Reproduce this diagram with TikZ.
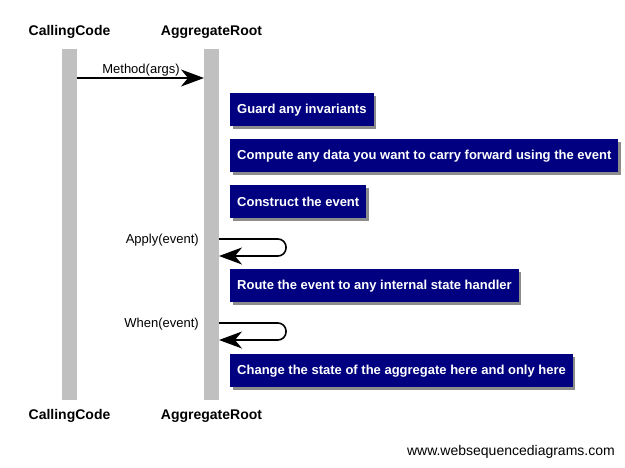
\documentclass[tikz,border=0pt]{standalone}
\usepackage{fontspec}
\setmainfont{Liberation Sans}
\usetikzlibrary{arrows.meta,shadows}
\definecolor{navybox}{RGB}{0,0,128}
\definecolor{lifegray}{RGB}{192,192,192}
\begin{document}
\begin{tikzpicture}[x=1pt,y=-1pt,
  actor/.style={font=\fontsize{14}{16}\selectfont\bfseries, inner sep=0pt},
  lifeline/.style={fill=lifegray},
  msg/.style={line width=1.6pt,-{Stealth[length=23pt,width=17pt,inset=7pt]}},
  lbl/.style={font=\fontsize{13}{15}\selectfont, inner sep=0pt},
  notebox/.style={fill=navybox, text=white, font=\fontsize{13}{15}\selectfont\bfseries,
    anchor=north west, minimum height=33pt, inner xsep=7pt, inner ysep=0pt,
    drop shadow={shadow xshift=2.5pt, shadow yshift=-2.5pt, fill=black, opacity=0.45}},
]
\fill[white] (0,0) rectangle (625,467);
\useasboundingbox (0,0) rectangle (625,467);

% actors
\node[actor] (cctop) at (69.5,32) {CallingCode};
\node[actor] (artop) at (211.5,32) {AggregateRoot};
\node[actor] (ccbot) at (69.5,416) {CallingCode};
\node[actor] (arbot) at (211.5,416) {AggregateRoot};

% lifelines
\fill[lifeline] (62,49) rectangle (77,400);
\fill[lifeline] (204,49) rectangle (219,400);

% message
\coordinate (m1s) at (77,78);
\coordinate (m1e) at (204,78);
\draw[msg] (m1s) -- (m1e);
\node[lbl] (m1l) at (141,70) {Method(args)};

% notes
\node[notebox] (n1) at (230,93) {Guard any invariants};
\node[notebox] (n2) at (230,139) {Compute any data you want to carry forward using the event};
\node[notebox] (n3) at (230,185) {Construct the event};
\node[notebox] (n4) at (230,269) {Route the event to any internal state handler};
\node[notebox] (n5) at (230,354) {Change the state of the aggregate here and only here};

% self messages
\coordinate (s1a) at (219,239);
\coordinate (s1b) at (219,256);
\draw[msg, rounded corners=8pt] (s1a) -- (286,239) -- (286,256) -- (s1b);
\node[lbl, anchor=east] (s1l) at (199,240) {Apply(event)};

\coordinate (s2a) at (219,323);
\coordinate (s2b) at (219,340);
\draw[msg, rounded corners=8pt] (s2a) -- (286,323) -- (286,340) -- (s2b);
\node[lbl, anchor=east] (s2l) at (199,324) {When(event)};

% watermark
\node[lbl, font=\fontsize{14}{16}\selectfont, anchor=east] (wm) at (615,452) {www.websequencediagrams.com};
\end{tikzpicture}
\end{document}
